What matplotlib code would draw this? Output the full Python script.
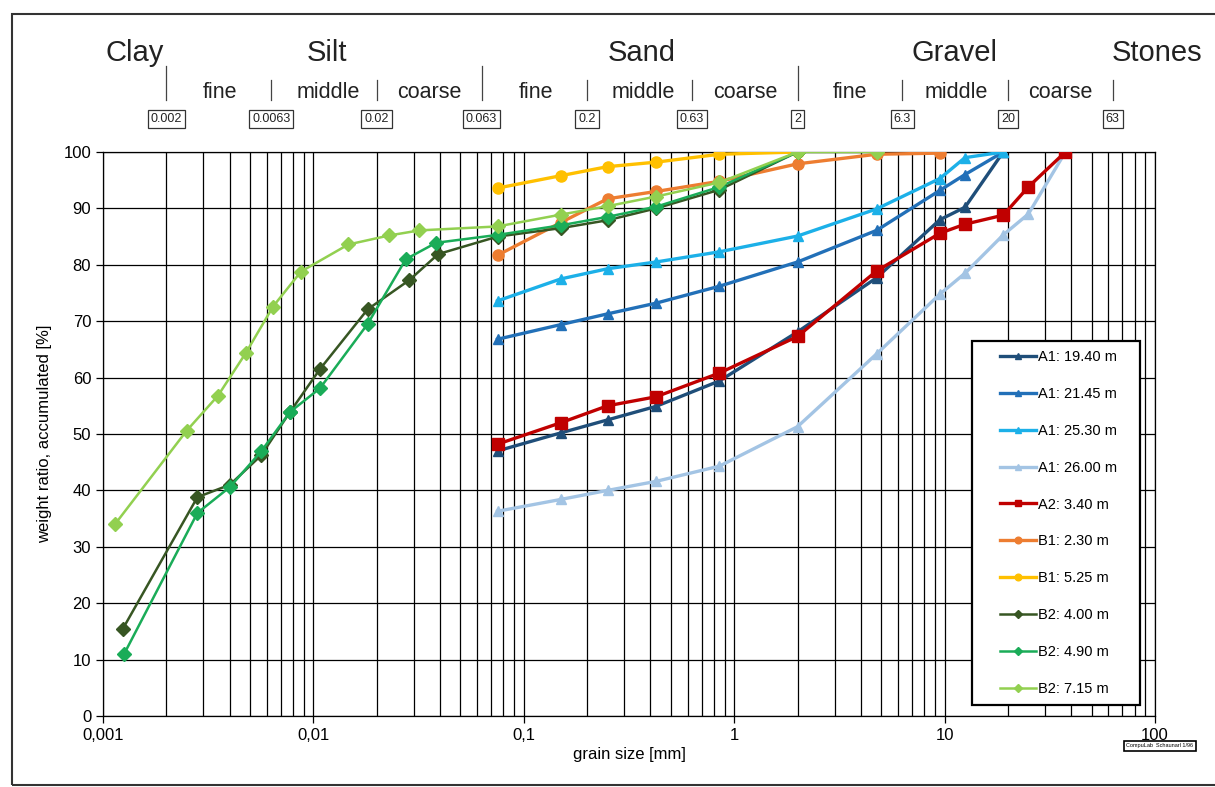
import numpy as np
import matplotlib
matplotlib.use("Agg")
import matplotlib.pyplot as plt
from matplotlib.patches import Rectangle
from matplotlib.ticker import FixedLocator, FixedFormatter, LogLocator, NullFormatter

plt.rcParams['font.family'] = ['Liberation Sans', 'DejaVu Sans']

# sieve sizes [mm]
sieve_a = [0.075, 0.15, 0.25, 0.425, 0.85, 2, 4.75, 9.5, 12.5, 19]
sieve_a2 = [0.075, 0.15, 0.25, 0.425, 0.85, 2, 4.75, 9.5, 12.5, 19, 25, 37.5]

a1_1940 = [47.0, 50.2, 52.5, 54.9, 59.4, 68.1, 77.7, 88.0, 90.2, 100]
a1_2145 = [66.8, 69.4, 71.3, 73.2, 76.2, 80.5, 86.1, 93.2, 96.0, 100]
a1_2530 = [73.6, 77.5, 79.3, 80.5, 82.3, 85.1, 89.9, 95.3, 99.0, 100]
a1_2600 = [36.3, 38.4, 40.0, 41.6, 44.3, 51.3, 64.2, 74.8, 78.5, 85.3, 89.0, 100]
a2_340 = [48.2, 52.0, 55.0, 56.6, 60.8, 67.3, 78.9, 85.6, 87.2, 88.8, 93.8, 100]

sieve_b1 = [0.075, 0.15, 0.25, 0.425, 0.85, 2, 4.75, 9.5]
b1_230 = [81.7, 87.5, 91.7, 93.0, 94.8, 97.9, 99.6, 99.8]
sieve_b1b = [0.075, 0.15, 0.25, 0.425, 0.85, 2]
b1_525 = [93.6, 95.8, 97.4, 98.2, 99.6, 100]

size_b2_400 = [0.00124, 0.00281, 0.00401, 0.00564, 0.00774, 0.01074, 0.0181, 0.0286, 0.0392,
               0.075, 0.15, 0.25, 0.425, 0.85, 2]
b2_400 = [15.4, 38.8, 41.0, 46.2, 53.9, 61.5, 72.1, 77.3, 81.9, 85.0, 86.5, 87.9, 90.0, 93.3, 100]
size_b2_490 = [0.00126, 0.00281, 0.00401, 0.00564, 0.00774, 0.01074, 0.0181, 0.0275, 0.0383,
               0.075, 0.15, 0.25, 0.425, 0.85, 2]
b2_490 = [11.0, 36.0, 40.6, 46.9, 53.9, 58.1, 69.5, 81.0, 83.9, 85.3, 87.0, 88.5, 90.3, 93.8, 100]
size_b2_715 = [0.00114, 0.0025, 0.00352, 0.00478, 0.00643, 0.00873, 0.01465, 0.0229, 0.0319,
               0.075, 0.15, 0.25, 0.425, 0.85, 2, 4.75]
b2_715 = [34.0, 50.6, 56.8, 64.4, 72.6, 78.8, 83.6, 85.2, 86.1, 86.8, 88.9, 90.4, 92.1, 94.6, 100, 100]

# soil class annotations
main_classes = ["Clay", "Silt", "Sand", "Gravel", "Stones"]
main_pos = [0.00142, 0.0116, 0.365, 11.2, 102]
sub_labels = ["fine", "middle", "coarse"] * 3
sub_pos = [0.0036, 0.0118, 0.0355, 0.114, 0.37, 1.13, 3.55, 11.4, 35.5]
limits = [0.002, 0.0063, 0.02, 0.063, 0.2, 0.63, 2, 6.3, 20, 63]
limit_text = ["0.002", "0.0063", "0.02", "0.063", "0.2", "0.63", "2", "6.3", "20", "63"]
tall_limits = [0.002, 0.063, 2]

fig = plt.figure(figsize=(12.15, 7.87), dpi=100)
ax = fig.add_axes([103 / 1215, 1 - 716 / 787, 1052 / 1215, 564 / 787])

series = [
    (sieve_a, a1_1940, "A1: 19.40 m", "#1f4e79", "^", 7.5, 2.4),
    (sieve_a, a1_2145, "A1: 21.45 m", "#2270b8", "^", 7.5, 2.4),
    (sieve_a, a1_2530, "A1: 25.30 m", "#1cb0e8", "^", 7.5, 2.4),
    (sieve_a2, a1_2600, "A1: 26.00 m", "#a3c4e4", "^", 7.5, 2.4),
    (sieve_a2, a2_340, "A2: 3.40 m", "#c00000", "s", 8, 2.4),
    (sieve_b1, b1_230, "B1: 2.30 m", "#ed7d31", "o", 8, 2.4),
    (sieve_b1b, b1_525, "B1: 5.25 m", "#ffc000", "o", 8, 2.4),
    (size_b2_400, b2_400, "B2: 4.00 m", "#375623", "D", 7, 1.8),
    (size_b2_490, b2_490, "B2: 4.90 m", "#1aac58", "D", 7, 1.8),
    (size_b2_715, b2_715, "B2: 7.15 m", "#92d050", "D", 7, 1.8),
]
for x, y, lab, col, mk, ms, lw in series:
    ax.plot(x, y, color=col, marker=mk, markersize=ms, linewidth=lw, label=lab, zorder=3)

ax.set_xscale("log")
ax.set_xlim(0.001, 100)
ax.set_ylim(0, 100)
ax.xaxis.set_major_locator(FixedLocator([0.001, 0.01, 0.1, 1, 10, 100]))
ax.xaxis.set_major_formatter(FixedFormatter(["0,001", "0,01", "0,1", "1", "10", "100"]))
ax.xaxis.set_minor_locator(LogLocator(base=10, subs=np.arange(2, 10), numticks=20))
ax.xaxis.set_minor_formatter(NullFormatter())
ax.set_yticks(np.arange(0, 101, 10))
ax.grid(which="both", axis="x", color="black", linewidth=0.9)
ax.grid(which="major", axis="y", color="black", linewidth=0.9)
ax.tick_params(axis="both", which="major", labelsize=12, length=5, width=0.9, direction="out")
ax.tick_params(axis="x", which="minor", length=0)
for s in ax.spines.values():
    s.set_linewidth(0.9)
ax.set_axisbelow(True)

ax.set_xlabel("grain size [mm]", fontsize=12, labelpad=3)
ax.set_ylabel("weight ratio, accumulated [%]", fontsize=12, labelpad=8)

tr = ax.get_xaxis_transform()
for name, xp in zip(main_classes, main_pos):
    ax.text(xp, 1.175, name, transform=tr, fontsize=21, ha="center", va="center", color="#222222", clip_on=False)
for name, xp in zip(sub_labels, sub_pos):
    ax.text(xp, 1.106, name, transform=tr, fontsize=15.5, ha="center", va="center", color="#222222", clip_on=False)
for xp, txt in zip(limits, limit_text):
    top = 1.152 if xp in tall_limits else 1.127
    ax.plot([xp, xp], [1.092, top], transform=tr, color="#444444", linewidth=0.9, clip_on=False)
    ax.text(xp, 1.059, txt, transform=tr, fontsize=9, ha="center", va="center", color="#222222",
            clip_on=False, bbox=dict(boxstyle="square,pad=0.25", fc="white", ec="#333333", lw=0.9))

# legend box drawn separately so its size matches the original
box_x0, box_y0, box_w, box_h = 0.826, 0.0195, 0.16, 0.6455
ax.add_patch(Rectangle((box_x0, box_y0), box_w, box_h, transform=ax.transAxes, fc="white",
                       ec="black", lw=1.6, zorder=4, clip_on=False))
leg = ax.legend(loc="center", bbox_to_anchor=(box_x0 + box_w / 2 + 0.002, box_y0 + box_h / 2),
                fontsize=10.5, frameon=False, labelspacing=1.57, borderpad=0, handlelength=2.5,
                handletextpad=0.1, borderaxespad=0, markerscale=0.6)
leg.set_zorder(5)

# small stamp under the 100 label
fig.text(1160 / 1215, 1 - 746 / 787, "CompuLab  Schaunarl 1/96", fontsize=4, ha="center", va="center",
         bbox=dict(boxstyle="square,pad=0.4", fc="white", ec="black", lw=1.2))

fig.patches.append(Rectangle((12 / 1215, 2 / 787), 1.2, 1 - 16 / 787, transform=fig.transFigure,
                             fill=False, ec="#333333", lw=1.5))

fig.savefig("out.png", dpi=100)
